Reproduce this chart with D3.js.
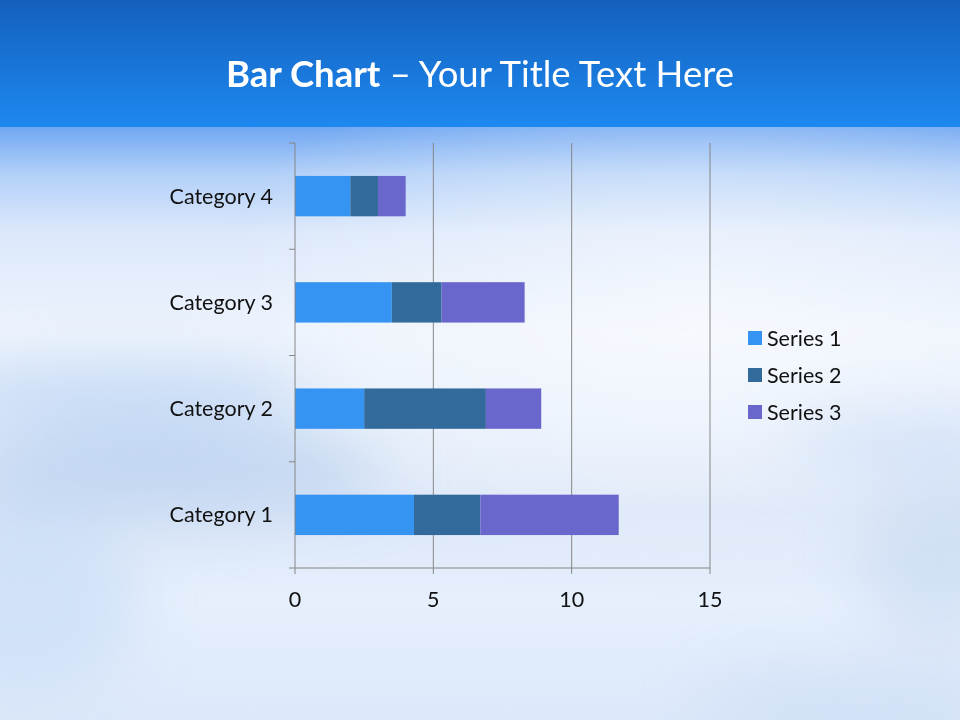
<!DOCTYPE html>
<html><head><meta charset="utf-8">
<script src="https://cdn.jsdelivr.net/npm/d3@7"></script>
<style>html,body{margin:0;padding:0;overflow:hidden;}svg{display:block;}</style>
</head><body>
<script>
const categories = ["Category 1","Category 2","Category 3","Category 4"];
const seriesNames = ["Series 1","Series 2","Series 3"];
const series1 = [4.3, 2.5, 3.5, 2];
const series2 = [2.4, 4.4, 1.8, 1];
const series3 = [5, 2, 3, 1];
const xTicks = [0, 5, 10, 15];
const colors = ["#3593F2", "#336A9C", "#6A67CC"];

const W = 960, H = 720;
const svg = d3.select("body").append("svg").attr("width", W).attr("height", H);
const defs = svg.append("defs");

const gTop = defs.append("linearGradient").attr("id","gTop").attr("x1",0).attr("y1",0).attr("x2",0).attr("y2",1);
gTop.append("stop").attr("offset","0%").attr("stop-color","#1460BC");
gTop.append("stop").attr("offset","100%").attr("stop-color","#1D89F0");

const gBg = defs.append("linearGradient").attr("id","gBg").attr("x1",0).attr("y1",0).attr("x2",0).attr("y2",1);
[["0%","#6EA6F2"],["8%","#B2D0F8"],["18%","#DCE8FB"],["35%","#EEF4FD"],["50%","#E8F0FC"],["65%","#DCE7F8"],["80%","#E6EFFC"],["100%","#DCE8FA"]]
  .forEach(([o,c]) => gBg.append("stop").attr("offset",o).attr("stop-color",c));

const gGlow = defs.append("radialGradient").attr("id","gGlow").attr("cx","0.72").attr("cy","0.3").attr("r","0.5");
gGlow.append("stop").attr("offset","0%").attr("stop-color","#ffffff").attr("stop-opacity",0.5);
gGlow.append("stop").attr("offset","100%").attr("stop-color","#ffffff").attr("stop-opacity",0);

const blur = defs.append("filter").attr("id","blur").attr("filterUnits","userSpaceOnUse")
  .attr("x",-200).attr("y",0).attr("width",1360).attr("height",920);
blur.append("feGaussianBlur").attr("stdDeviation",30);

svg.append("rect").attr("x",0).attr("y",126).attr("width",W).attr("height",H-126).attr("fill","url(#gBg)");
const clouds = svg.append("g").attr("filter","url(#blur)");
clouds.append("ellipse").attr("cx",120).attr("cy",395).attr("rx",200).attr("ry",30).attr("fill","#BDD5F4").attr("opacity",0.8);
clouds.append("ellipse").attr("cx",170).attr("cy",470).attr("rx",220).attr("ry",40).attr("fill","#B9D0EE").attr("opacity",0.8);
clouds.append("ellipse").attr("cx",20).attr("cy",600).attr("rx",120).attr("ry",90).attr("fill","#C4DAF6").attr("opacity",0.6);
clouds.append("ellipse").attr("cx",900).attr("cy",440).attr("rx",120).attr("ry",25).attr("fill","#C0D6F5").attr("opacity",0.8);
clouds.append("ellipse").attr("cx",940).attr("cy",560).attr("rx",80).attr("ry",80).attr("fill","#C6D8F2").attr("opacity",0.6);
clouds.append("ellipse").attr("cx",860).attr("cy",710).attr("rx",160).attr("ry",40).attr("fill","#CADCF5").attr("opacity",0.6);
svg.append("rect").attr("x",0).attr("y",126).attr("width",W).attr("height",H-126).attr("fill","url(#gGlow)");
svg.append("rect").attr("x",0).attr("y",0).attr("width",W).attr("height",127).attr("fill","url(#gTop)");

const fontFam = "Lato, 'Open Sans', sans-serif";

// Title
const title = svg.append("text").attr("x",480).attr("y",87).attr("text-anchor","middle")
  .attr("fill","#ffffff").attr("font-family",fontFam).attr("font-size",36.5);
title.append("tspan").attr("font-weight","bold").text("Bar Chart");
title.append("tspan").text(" – Your Title Text Here");

// Scales
const pLeft = 295, pRight = 710, pTop = 143, pBottom = 568;
const x = d3.scaleLinear().domain([0,15]).range([pLeft,pRight]);
const y = d3.scaleBand().domain(categories.slice().reverse()).range([pTop,pBottom]).paddingInner(0.62).paddingOuter(0.31);

// Gridlines
svg.append("g").selectAll("line").data(xTicks.slice(1)).join("line")
  .attr("x1",d=>x(d)).attr("x2",d=>x(d)).attr("y1",pTop).attr("y2",pBottom)
  .attr("stroke","#868686").attr("stroke-width",1);

// Stacked data
const rows = categories.map((c,i)=>({cat:c, s0:series1[i], s1:series2[i], s2:series3[i]}));
const stack = d3.stack().keys(["s0","s1","s2"])(rows);
svg.append("g").selectAll("g").data(stack).join("g").attr("fill",(d,i)=>colors[i])
  .selectAll("rect").data(d=>d).join("rect")
  .attr("x",d=>x(d[0])).attr("width",d=>x(d[1])-x(d[0]))
  .attr("y",d=>y(d.data.cat)).attr("height",y.bandwidth());

// Y axis
const yLine = svg.append("g");
yLine.append("line").attr("x1",pLeft).attr("x2",pLeft).attr("y1",pTop).attr("y2",pBottom).attr("stroke","#868686");
const yTickPos = d3.range(categories.length+1).map(i => pTop + i*(pBottom-pTop)/categories.length);
yLine.selectAll("line.t").data(yTickPos).join("line").attr("class","t")
  .attr("x1",pLeft-6).attr("x2",pLeft).attr("y1",d=>d).attr("y2",d=>d).attr("stroke","#868686");
svg.append("g").selectAll("text").data(categories).join("text")
  .attr("x",273).attr("y",d=>y(d)+y.bandwidth()/2).attr("dy","0.35em").attr("text-anchor","end")
  .attr("font-family",fontFam).attr("font-size",21.5).attr("fill","#111").text(d=>d);

// X axis
const xAx = svg.append("g");
xAx.append("line").attr("x1",pLeft).attr("x2",pRight).attr("y1",pBottom).attr("y2",pBottom).attr("stroke","#868686");
xAx.selectAll("line.t").data(xTicks).join("line").attr("class","t")
  .attr("x1",d=>x(d)).attr("x2",d=>x(d)).attr("y1",pBottom).attr("y2",pBottom+6).attr("stroke","#868686");
xAx.selectAll("text").data(xTicks).join("text")
  .attr("x",d=>x(d)).attr("y",607).attr("text-anchor","middle")
  .attr("font-family",fontFam).attr("font-size",21.5).attr("fill","#111").text(d=>d);

// Legend
const leg = svg.append("g").selectAll("g").data(seriesNames).join("g")
  .attr("transform",(d,i)=>`translate(748,${338 + i*37})`);
leg.append("rect").attr("x",0).attr("y",-7).attr("width",14).attr("height",14).attr("fill",(d,i)=>colors[i]);
leg.append("text").attr("x",19).attr("y",0).attr("dy","0.35em").attr("font-family",fontFam).attr("font-size",21.5).attr("fill","#111").text(d=>d);
</script>
</body></html>
